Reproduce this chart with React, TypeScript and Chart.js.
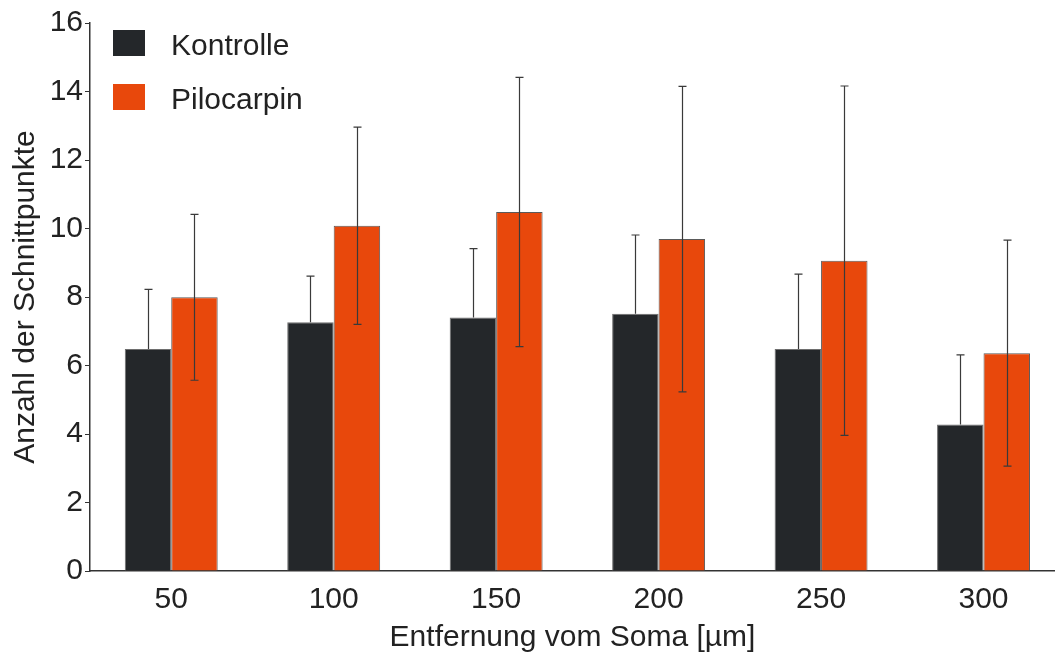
import { useEffect, useRef } from "react";
import { Chart, registerables } from "chart.js";

Chart.register(...registerables);

// Distance from soma (µm) and mean intersection counts with standard deviations
const distances = [50, 100, 150, 200, 250, 300];
const kontrolle = [6.48, 7.26, 7.4, 7.51, 6.48, 4.28];
const kontrolleSD = [1.74, 1.35, 2.01, 2.3, 2.19, 2.03];
const pilocarpin = [7.99, 10.08, 10.48, 9.69, 9.06, 6.36];
const pilocarpinSD = [2.42, 2.88, 3.93, 4.46, 5.1, 3.3];
const yTicks = [0, 2, 4, 6, 8, 10, 12, 14, 16];

const seriesNames = ["Kontrolle", "Pilocarpin"];
const seriesColors = ["#24272a", "#e8480c"];

const FONT = '"Liberation Sans", Arial, Helvetica, sans-serif';
const TEXT = "#222222";

// Whiskers: control group only shows the upper half, pilocarpin shows both
const errorBarPlugin = {
  id: "errorBars",
  afterDatasetsDraw(chart: any) {
    const { ctx } = chart;
    const yScale = chart.scales.y;
    chart.data.datasets.forEach((ds: any, di: number) => {
      const meta = chart.getDatasetMeta(di);
      ctx.save();
      ctx.strokeStyle = "#3a3a3a";
      ctx.lineWidth = 1.2;
      meta.data.forEach((bar: any, i: number) => {
        const v = ds.data[i].y;
        const sd = ds.errors[i];
        const x = Math.round(bar.x) + 0.5;
        const yTop = yScale.getPixelForValue(v + sd);
        const yBot = ds.errorMode === "both" ? yScale.getPixelForValue(v - sd) : bar.y;
        ctx.beginPath();
        ctx.moveTo(x, yTop);
        ctx.lineTo(x, yBot);
        ctx.moveTo(x - 4, yTop);
        ctx.lineTo(x + 4, yTop);
        if (ds.errorMode === "both") {
          ctx.moveTo(x - 4, yBot);
          ctx.lineTo(x + 4, yBot);
        }
        ctx.stroke();
      });
      ctx.restore();
    });
  },
};

// Legend drawn inside the plot area, top-left
const innerLegendPlugin = {
  id: "innerLegend",
  afterDraw(chart: any) {
    const { ctx, chartArea } = chart;
    ctx.save();
    ctx.font = `30px ${FONT}`;
    ctx.textBaseline = "middle";
    chart.data.datasets.forEach((ds: any, i: number) => {
      const bx = chartArea.left + 23;
      const by = chartArea.top + 7 + i * 54;
      ctx.fillStyle = ds.backgroundColor;
      ctx.fillRect(bx, by, 32, 26);
      ctx.fillStyle = TEXT;
      ctx.fillText(ds.label, bx + 58, by + 17);
    });
    ctx.restore();
  },
};

export default function App() {
  const canvasRef = useRef<HTMLCanvasElement | null>(null);

  useEffect(() => {
    document.body.style.margin = "0";
    document.body.style.overflow = "hidden";
    const canvas = canvasRef.current;
    if (!canvas) return;

    const chart = new Chart(canvas, {
      type: "bar",
      data: {
        datasets: [
          {
            label: seriesNames[0],
            data: kontrolle.map((y, i) => ({ x: distances[i], y })),
            errors: kontrolleSD,
            errorMode: "upper",
            backgroundColor: seriesColors[0],
            borderColor: "#6e6e6e",
            borderWidth: 1,
          } as any,
          {
            label: seriesNames[1],
            data: pilocarpin.map((y, i) => ({ x: distances[i], y })),
            errors: pilocarpinSD,
            errorMode: "both",
            backgroundColor: seriesColors[1],
            borderColor: "#5a5a5a",
            borderWidth: 1,
          } as any,
        ],
      },
      options: {
        animation: false,
        responsive: true,
        maintainAspectRatio: false,
        devicePixelRatio: 1,
        layout: { padding: { top: 23, right: 0, left: 0, bottom: 0 } },
        datasets: {
          bar: { barPercentage: 1, categoryPercentage: 0.572 },
        },
        plugins: {
          legend: { display: false },
          tooltip: { enabled: false },
        },
        scales: {
          x: {
            type: "linear",
            offset: false,
            min: 25,
            max: 322,
            afterBuildTicks: (scale: any) => {
              scale.ticks = distances.map((value) => ({ value }));
            },
            afterFit: (scale: any) => {
              scale.height = 83;
            },
            grid: { display: false, offset: false },
            border: { display: true, color: "#333333", width: 1.5 },
            ticks: {
              padding: 3,
              color: TEXT,
              font: { family: FONT, size: 30 },
              callback: (v: any) => String(v),
            },
            title: {
              display: true,
              text: "Entfernung vom Soma [µm]",
              color: TEXT,
              font: { family: FONT, size: 30 },
              padding: { top: 0, bottom: -2 },
            },
          },
          y: {
            min: 0,
            max: 16,
            afterBuildTicks: (scale: any) => {
              scale.ticks = yTicks.map((value) => ({ value }));
            },
            afterFit: (scale: any) => {
              scale.width = 90;
            },
            grid: {
              drawOnChartArea: false,
              drawTicks: true,
              tickLength: 5,
              color: "#333333",
            },
            border: { display: true, color: "#333333", width: 1.5 },
            ticks: {
              padding: 2,
              color: TEXT,
              font: { family: FONT, size: 30 },
            },
            title: {
              display: true,
              text: "Anzahl der Schnittpunkte",
              color: TEXT,
              font: { family: FONT, size: 30 },
              padding: { top: 8, bottom: 0 },
            },
          },
        },
      },
      plugins: [errorBarPlugin, innerLegendPlugin],
    } as any);

    return () => chart.destroy();
  }, []);

  return (
    <div style={{ position: "absolute", left: 0, top: 0, width: 1055, height: 654 }}>
      <canvas ref={canvasRef} />
    </div>
  );
}
